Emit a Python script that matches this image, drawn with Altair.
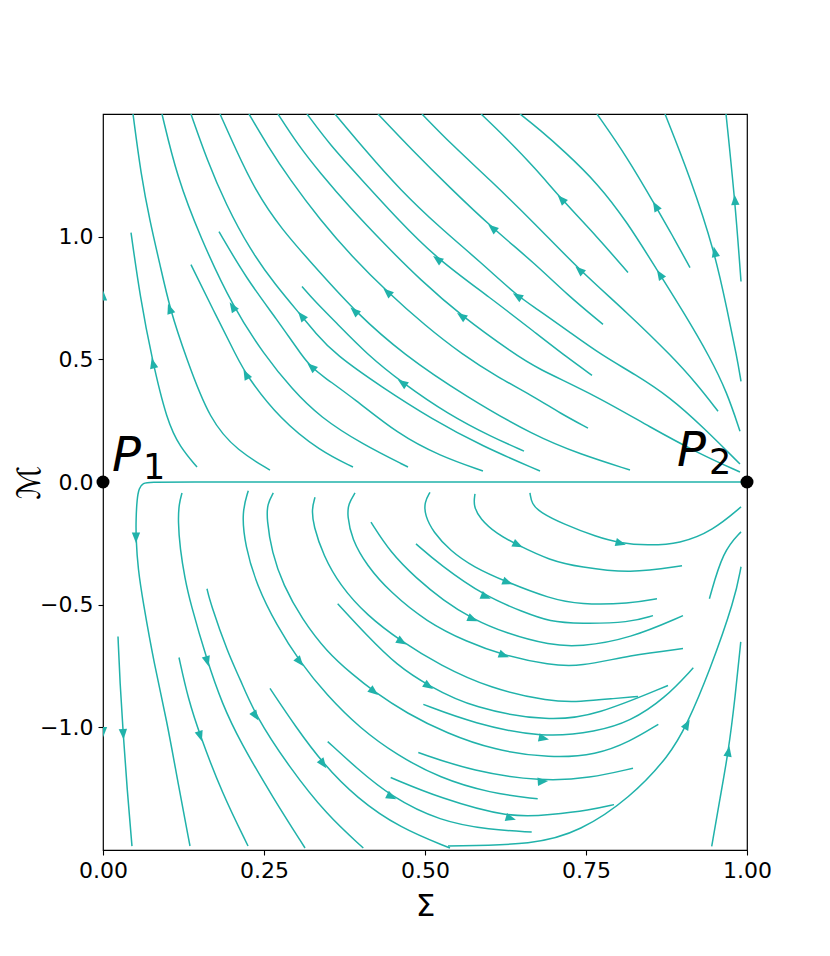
import math
import altair as alt
import pandas as pd

TEAL = "#20b2aa"
FONT = "DejaVu Sans"

# ---------------- streamlines (data units, listed in flow direction) -------------
# upper half
U1_x = [0.146, 0.1196, 0.0994, 0.0761, 0.0575, 0.0435]
U1_y = [0.061, 0.1423, 0.248, 0.5, 0.756, 1.0163]
U2_x = [0.2593, 0.2096, 0.1661, 0.1289, 0.104, 0.0885, 0.073, 0.059, 0.0466]
U2_y = [0.0488, 0.126, 0.248, 0.5081, 0.7033, 0.8862, 1.061, 1.252, 1.5]
U3_x = [0.3882, 0.337, 0.2748, 0.2236, 0.2081, 0.1708, 0.1366]
U3_y = [0.061, 0.126, 0.2561, 0.4309, 0.5081, 0.7033, 0.8862]
U4_x = [0.4736, 0.4022, 0.337, 0.2935, 0.25, 0.2019, 0.1506, 0.1149, 0.0916]
U4_y = [0.061, 0.1545, 0.2642, 0.378, 0.5203, 0.7114, 1.0, 1.2439, 1.5]
U5_x = [0.59, 0.5233, 0.4581, 0.3913, 0.337, 0.3245, 0.3106, 0.2702, 0.2236, 0.1801]
U5_y = [0.0447, 0.1057, 0.1951, 0.3374, 0.439, 0.4675, 0.5081, 0.6626, 0.8252, 1.0203]
U6_x = [0.6786, 0.5885, 0.5109, 0.4332, 0.3602, 0.3292, 0.309, 0.2671, 0.2283, 0.191, 0.1615, 0.1366]
U6_y = [0.0447, 0.1463, 0.2561, 0.3862, 0.5203, 0.6098, 0.6748, 0.8049, 0.9472, 1.1301, 1.313, 1.5]
U7_x = [0.6537, 0.604, 0.5357, 0.4658, 0.4099, 0.3602, 0.3292, 0.309]
U7_y = [0.126, 0.1829, 0.2764, 0.4024, 0.5203, 0.6545, 0.7358, 0.7967]
U8_x = [0.8183, 0.7407, 0.6708, 0.5652, 0.4658, 0.3913, 0.337, 0.2748, 0.236, 0.2065, 0.1817]
U8_y = [0.0488, 0.1138, 0.187, 0.3455, 0.5203, 0.6951, 0.8537, 1.0366, 1.1911, 1.3537, 1.5]
U9_x = [0.7531, 0.7096, 0.6708, 0.6134, 0.5575, 0.5, 0.4425, 0.3866, 0.337, 0.2904, 0.2547, 0.2267]
U9_y = [0.2195, 0.2805, 0.3455, 0.4268, 0.5203, 0.6382, 0.7724, 0.9187, 1.0691, 1.2317, 1.374, 1.5]
U10_x = [0.9891, 0.927, 0.8494, 0.7671, 0.6708, 0.6398, 0.5575, 0.4922, 0.4379, 0.3835, 0.337, 0.3028, 0.2717]
U10_y = [0.0407, 0.1138, 0.2236, 0.3496, 0.4675, 0.5203, 0.6748, 0.8252, 0.9675, 1.1179, 1.2602, 1.374, 1.5]
U11_x = [0.7593, 0.7205, 0.6708, 0.6009, 0.5202, 0.4612, 0.3991, 0.3525, 0.3168]
U11_y = [0.435, 0.5081, 0.6098, 0.752, 0.9065, 1.061, 1.2398, 1.374, 1.5]
U12_x = [0.9891, 0.9317, 0.8804, 0.8261, 0.7748, 0.7252, 0.6708, 0.6444, 0.5854, 0.5233, 0.4612, 0.4068, 0.3602]
U12_y = [0.0732, 0.2236, 0.3455, 0.439, 0.5163, 0.6098, 0.7114, 0.7561, 0.8984, 1.0366, 1.1911, 1.3537, 1.5]
U13_x = [0.7764, 0.7205, 0.6708, 0.604, 0.5388, 0.4798, 0.427]
U13_y = [0.6423, 0.7642, 0.8902, 1.0366, 1.1992, 1.3537, 1.5]
U14_x = [0.955, 0.9224, 0.8851, 0.8137, 0.7407, 0.6708, 0.6009, 0.5419, 0.4953]
U14_y = [0.2886, 0.3984, 0.5081, 0.6911, 0.8618, 1.0528, 1.2317, 1.374, 1.5]
U15_x = [0.8152, 0.7671, 0.7127, 0.6708, 0.6242, 0.587]
U15_y = [0.8537, 1.0, 1.1504, 1.2805, 1.4065, 1.5]
U16_x = [0.9891, 0.9689, 0.9425, 0.9037, 0.8618, 0.8137, 0.7671, 0.7174, 0.6786, 0.6475]
U16_y = [0.2073, 0.3659, 0.5081, 0.6829, 0.8577, 1.061, 1.2195, 1.3455, 1.435, 1.5]
U17_x = [0.9115, 0.8835, 0.8587, 0.8137, 0.7671]
U17_y = [0.874, 1.0081, 1.122, 1.3252, 1.5]
U18_x = [0.9907, 0.9845, 0.9689, 0.9503, 0.9115, 0.8727]
U18_y = [0.4106, 0.5081, 0.7033, 0.935, 1.2439, 1.5]
U19_x = [0.9907, 0.9814, 0.9674]
U19_y = [0.8171, 1.1463, 1.5]
EU_x = [0.0, 0.0]
EU_y = [0.55, 1.0]

# lower half
B1_x = [0.0233, 0.0264, 0.0311, 0.0373, 0.045]
B1_y = [-0.63, -0.821, -1.016, -1.248, -1.484]
B2_x = [1.0, 0.6, 0.3, 0.12, 0.073, 0.0621, 0.0559, 0.0528, 0.0512, 0.0512, 0.0543, 0.0621, 0.0792, 0.0994, 0.1165, 0.1351]
B2_y = [0.0, 0.0, 0.0, 0.0, 0.0, -0.0041, -0.0244, -0.0691, -0.1504, -0.2317, -0.3537, -0.4878, -0.7398, -0.9756, -1.2276, -1.4837]
B3_x = [0.118, 0.132, 0.1506, 0.1848, 0.2252]
B3_y = [-0.7154, -0.8821, -1.0325, -1.2683, -1.4837]
B4_x = [0.1227, 0.118, 0.1165, 0.1196, 0.1273, 0.1351, 0.1615, 0.1848, 0.2127, 0.2644, 0.3137]
B4_y = [-0.0447, -0.0894, -0.1585, -0.2724, -0.3943, -0.4878, -0.7276, -0.9024, -1.0581, -1.2886, -1.4919]
B5_x = [0.1615, 0.1661, 0.1941, 0.2127, 0.236, 0.2904, 0.3474, 0.4042]
B5_y = [-0.435, -0.4878, -0.6992, -0.8008, -0.95, -1.1667, -1.3566, -1.4919]
B6_x = [0.2256, 0.2154, 0.2205, 0.2387, 0.2697, 0.3048, 0.3474, 0.3991, 0.4561, 0.5233, 0.6009, 0.675]
B6_y = [-0.0354, -0.1232, -0.2589, -0.4215, -0.5841, -0.7305, -0.8687, -1.004, -1.1126, -1.2073, -1.2683, -1.2915]
B7_x = [0.2644, 0.2551, 0.2542, 0.262, 0.28, 0.3085, 0.3474, 0.3887, 0.4197, 0.4716, 0.5337, 0.6061, 0.6941, 0.7666, 0.8183, 0.8623]
B7_y = [-0.0447, -0.0894, -0.1504, -0.2858, -0.4215, -0.5569, -0.6923, -0.7874, -0.8524, -0.9431, -1.0244, -1.0923, -1.126, -1.1126, -1.0581, -0.9878]
B8_x = [0.2593, 0.3008, 0.3411, 0.394, 0.4612, 0.5388]
B8_y = [-0.8415, -1.004, -1.1463, -1.2886, -1.4106, -1.4919]
B9_x = [0.3292, 0.3241, 0.3266, 0.3421, 0.368, 0.4095, 0.4627, 0.5233, 0.6009, 0.6941, 0.7407, 0.795, 0.8307]
B9_y = [-0.0622, -0.1098, -0.1776, -0.2996, -0.4215, -0.5435, -0.6492, -0.7467, -0.8415, -0.8955, -0.8955, -0.8821, -0.874]
B10_x = [0.3913, 0.3809, 0.3793, 0.3862, 0.4095, 0.4457, 0.5026, 0.5648, 0.6216, 0.6941, 0.7407, 0.8183, 0.9006]
B10_y = [-0.0447, -0.0894, -0.137, -0.2317, -0.3402, -0.4484, -0.5703, -0.6516, -0.7061, -0.7467, -0.7533, -0.7061, -0.6789]
B11_x = [0.4161, 0.4457, 0.4871, 0.5284, 0.5725, 0.6269, 0.6941, 0.7407, 0.8183, 0.9006]
B11_y = [-0.1638, -0.2858, -0.3943, -0.4825, -0.5569, -0.6179, -0.6654, -0.672, -0.6382, -0.5447]
B12_x = [0.5078, 0.4989, 0.5, 0.5129, 0.5388, 0.575, 0.6269, 0.6941, 0.7407, 0.8183, 0.8602]
B12_y = [-0.0419, -0.0825, -0.137, -0.2045, -0.2793, -0.3467, -0.4077, -0.4756, -0.5, -0.4959, -0.4756]
B13_x = [0.486, 0.5233, 0.5932, 0.6527, 0.6941, 0.7407, 0.8183, 0.854]
B13_y = [-0.252, -0.3374, -0.4663, -0.5297, -0.5703, -0.5772, -0.5732, -0.5447]
B14_x = [0.5776, 0.575, 0.5854, 0.6113, 0.6424, 0.6941, 0.7407, 0.8183, 0.8991]
B14_y = [-0.0488, -0.0963, -0.1504, -0.2114, -0.2549, -0.3199, -0.3467, -0.374, -0.3415]
B15_x = [0.663, 0.6657, 0.6786, 0.7143, 0.7666, 0.8028, 0.8443, 0.896, 0.9472, 0.9907]
B15_y = [-0.0447, -0.0894, -0.1232, -0.1707, -0.2236, -0.2492, -0.2589, -0.252, -0.198, -0.1016]
F1_x = [0.3644, 0.4095, 0.4561, 0.5051, 0.575, 0.6941, 0.7666, 0.8773]
F1_y = [-0.4959, -0.6248, -0.7467, -0.8305, -0.9228, -0.9768, -0.95, -0.8293]
F2_x = [0.4974, 0.575, 0.6837, 0.7666, 0.8183, 0.8727, 0.9166]
F2_y = [-0.9065, -0.9837, -1.0447, -1.0175, -0.9768, -0.8821, -0.7573]
F3_x = [0.3489, 0.394, 0.4467, 0.5233, 0.6009, 0.6657]
F3_y = [-1.0581, -1.1667, -1.2817, -1.3833, -1.4175, -1.4268]
F4_x = [0.4896, 0.575, 0.6812, 0.7562, 0.823]
F4_y = [-1.1028, -1.1801, -1.2207, -1.2073, -1.1667]
F5_x = [0.4467, 0.5233, 0.632, 0.6941, 0.7562, 0.7935]
F5_y = [-1.2045, -1.2886, -1.3699, -1.3565, -1.3374, -1.315]
K_x = [0.5357, 0.6708, 0.7407, 0.8183, 0.8804, 0.9064, 0.9416, 0.9814, 0.9907]
K_y = [-1.4837, -1.4785, -1.424, -1.2886, -1.1126, -0.9907, -0.7736, -0.4756, -0.3455]
R_x = [0.9452, 0.9581, 0.971, 0.9814, 0.9903]
R_y = [-1.485, -1.2886, -1.1016, -0.8821, -0.6516]
X1_x = [0.9416, 0.9627, 0.9907]
X1_y = [-0.4756, -0.2805, -0.2033]
EL_x = [0.0, 0.0]
EL_y = [-0.8, -1.25]

LINES = {
    "U1": (U1_x, U1_y), "U2": (U2_x, U2_y), "U3": (U3_x, U3_y), "U4": (U4_x, U4_y),
    "U5": (U5_x, U5_y), "U6": (U6_x, U6_y), "U7": (U7_x, U7_y), "U8": (U8_x, U8_y),
    "U9": (U9_x, U9_y), "U10": (U10_x, U10_y), "U11": (U11_x, U11_y), "U12": (U12_x, U12_y),
    "U13": (U13_x, U13_y), "U14": (U14_x, U14_y), "U15": (U15_x, U15_y), "U16": (U16_x, U16_y),
    "U17": (U17_x, U17_y), "U18": (U18_x, U18_y), "U19": (U19_x, U19_y), "EU": (EU_x, EU_y),
    "B1": (B1_x, B1_y), "B2": (B2_x, B2_y), "B3": (B3_x, B3_y), "B4": (B4_x, B4_y),
    "B5": (B5_x, B5_y), "B6": (B6_x, B6_y), "B7": (B7_x, B7_y), "B8": (B8_x, B8_y),
    "B9": (B9_x, B9_y), "B10": (B10_x, B10_y), "B11": (B11_x, B11_y), "B12": (B12_x, B12_y),
    "B13": (B13_x, B13_y), "B14": (B14_x, B14_y), "B15": (B15_x, B15_y),
    "F1": (F1_x, F1_y), "F2": (F2_x, F2_y), "F3": (F3_x, F3_y), "F4": (F4_x, F4_y),
    "F5": (F5_x, F5_y), "K": (K_x, K_y), "R": (R_x, R_y), "X1": (X1_x, X1_y), "EL": (EL_x, EL_y),
}
# streamlines that run along the left spine: only their arrow heads show
HIDDEN = {"EU", "EL"}

# arrow heads: which streamline, and where on it
ARROW_LINE = ["U1", "U2", "U3", "U4", "U5", "U6", "U7", "U8", "U9", "U10", "U11", "U12", "U13",
              "U14", "U15", "U16", "U17", "U18", "U19", "EU",
              "B1", "B2", "B3", "B4", "B5", "B6", "B7", "B8", "B9", "B10", "B11", "B12", "B13",
              "B14", "B15", "F1", "F2", "F3", "F4", "F5", "K", "R", "EL"]
ARROW_X = [0.0761, 0.104, 0.222, 0.2019, 0.3245, 0.309, 0.4658, 0.3913, 0.4425, 0.5575, 0.5202,
           0.6444, 0.604, 0.7407, 0.7127, 0.8618, 0.8587, 0.9503, 0.9814, 0.0,
           0.0311, 0.0512, 0.1506, 0.1615, 0.236, 0.3043, 0.4193, 0.3411, 0.4627, 0.6211, 0.573,
           0.6273, 0.5932, 0.6429, 0.8028, 0.5047, 0.6832, 0.4472, 0.6817, 0.632, 0.9068, 0.9705, 0.0]
ARROW_Y = [0.4797, 0.7033, 0.435, 0.7114, 0.4675, 0.6748, 0.4024, 0.6951, 0.7724, 0.6748, 0.9065,
           0.7561, 1.0285, 0.8618, 1.1504, 0.8374, 1.122, 0.935, 1.1463, 0.757,
           -1.0244, -0.2236, -1.0325, -0.7276, -0.9512, -0.7317, -0.8537, -1.1463, -0.6504, -0.7073,
           -0.5569, -0.4065, -0.4675, -0.2561, -0.248, -0.8293, -1.0447, -1.2805, -1.2195, -1.3699,
           -0.9919, -1.1016, -1.016]

# fixed points
PTS_X = [0.0, 1.0]
PTS_Y = [0.0, 0.0]

X_TICKS = [0.0, 0.25, 0.5, 0.75, 1.0]
Y_TICKS = [-1.0, -0.5, 0.0, 0.5, 1.0]
X_DOMAIN = [0.0, 1.0]
Y_DOMAIN = [-1.5, 1.5]

W, H = 644, 736
SX = W / (X_DOMAIN[1] - X_DOMAIN[0])
SY = H / (Y_DOMAIN[1] - Y_DOMAIN[0])

rows = []
for name, (xs, ys) in LINES.items():
    if name in HIDDEN:
        continue
    for i, (a, b) in enumerate(zip(xs, ys)):
        rows.append({"line": name, "i": i, "x": a, "y": b})
line_df = pd.DataFrame(rows)

arrow_rows = []
for name, ax, ay in zip(ARROW_LINE, ARROW_X, ARROW_Y):
    xs, ys = LINES[name]
    best = None
    px, py = ax * SX, ay * SY
    for j in range(len(xs) - 1):
        x0, y0 = xs[j] * SX, ys[j] * SY
        x1, y1 = xs[j + 1] * SX, ys[j + 1] * SY
        dx, dy = x1 - x0, y1 - y0
        L2 = dx * dx + dy * dy
        t = 0.0 if L2 == 0 else max(0.0, min(1.0, ((px - x0) * dx + (py - y0) * dy) / L2))
        qx, qy = x0 + t * dx, y0 + t * dy
        d = (qx - px) ** 2 + (qy - py) ** 2
        if best is None or d < best[0]:
            best = (d, qx / SX, qy / SY, dx, dy)
    _, qx, qy, dx, dy = best
    ang = math.degrees(math.atan2(dx, dy)) % 360
    arrow_rows.append({"x": qx, "y": qy, "angle": ang})
arrow_df = pd.DataFrame(arrow_rows)

pts_df = pd.DataFrame({"x": PTS_X, "y": PTS_Y})

x_axis = alt.Axis(values=X_TICKS, format=".2f", title="Σ", titleFont=FONT, titleFontSize=31,
                  titleFontWeight="normal", titleColor="black", titleY=65,
                  titleBaseline="alphabetic", labelFont=FONT, labelFontSize=22,
                  labelColor="black", labelPadding=5, labelFlush=False, labelOverlap=False,
                  tickColor="black", tickSize=5, tickWidth=1.1, domain=False, grid=False)
y_axis = alt.Axis(values=Y_TICKS, format=".1f", title="ℳ", titleFont=FONT, titleFontSize=32,
                  titleFontWeight="normal", titleColor="black", titleAngle=270,
                  titleX=-74, titleY=368, titleAlign="center", titleBaseline="middle",
                  labelFont=FONT, labelFontSize=22, labelColor="black", labelPadding=5,
                  labelFlush=False, labelOverlap=False, tickColor="black", tickSize=5,
                  tickWidth=1.1, domain=False, grid=False)

X = alt.X("x:Q", scale=alt.Scale(domain=X_DOMAIN, nice=False, zero=False), axis=x_axis)
Y = alt.Y("y:Q", scale=alt.Scale(domain=Y_DOMAIN, nice=False, zero=False), axis=y_axis)

lines = alt.Chart(line_df).mark_line(
    color=TEAL, strokeWidth=1.5, interpolate="basis", clip=True
).encode(x=X, y=Y, detail="line:N", order="i:Q")

arrows = alt.Chart(arrow_df).mark_point(
    shape="M0,-1L0.68,0.7L-0.68,0.7Z", filled=True, size=150, color=TEAL,
    opacity=1, strokeWidth=0, clip=True
).encode(x=X, y=Y, angle=alt.Angle("angle:Q", scale=None))

dots = alt.Chart(pts_df).mark_circle(size=169, color="black", opacity=1).encode(x=X, y=Y)

p1_df = pd.DataFrame({"x": [PTS_X[0]], "y": [PTS_Y[0]]})
p2_df = pd.DataFrame({"x": [PTS_X[1]], "y": [PTS_Y[1]]})

p1 = alt.Chart(p1_df).mark_text(text="P", font=FONT, fontSize=48, fontStyle="italic",
                                align="left", baseline="alphabetic", dx=9, dy=-11,
                                color="black").encode(x=X, y=Y)
p1s = alt.Chart(p1_df).mark_text(text="1", font=FONT, fontSize=35, align="left",
                                 baseline="alphabetic", dx=40, dy=-3,
                                 color="black").encode(x=X, y=Y)
p2 = alt.Chart(p2_df).mark_text(text="P", font=FONT, fontSize=48, fontStyle="italic",
                                align="left", baseline="alphabetic", dx=-70, dy=-16,
                                color="black").encode(x=X, y=Y)
p2s = alt.Chart(p2_df).mark_text(text="2", font=FONT, fontSize=35, align="left",
                                 baseline="alphabetic", dx=-38, dy=-8,
                                 color="black").encode(x=X, y=Y)

chart = alt.layer(lines, arrows, dots, p1, p1s, p2, p2s).properties(
    width=W, height=H,
    autosize=alt.AutoSizeParams(type="none"),
    padding={"left": 95, "top": 106, "right": 75, "bottom": 96},
).configure_view(stroke="black", strokeWidth=1.2)

chart.save("out.html", embed_options={"renderer": "svg", "actions": False})
